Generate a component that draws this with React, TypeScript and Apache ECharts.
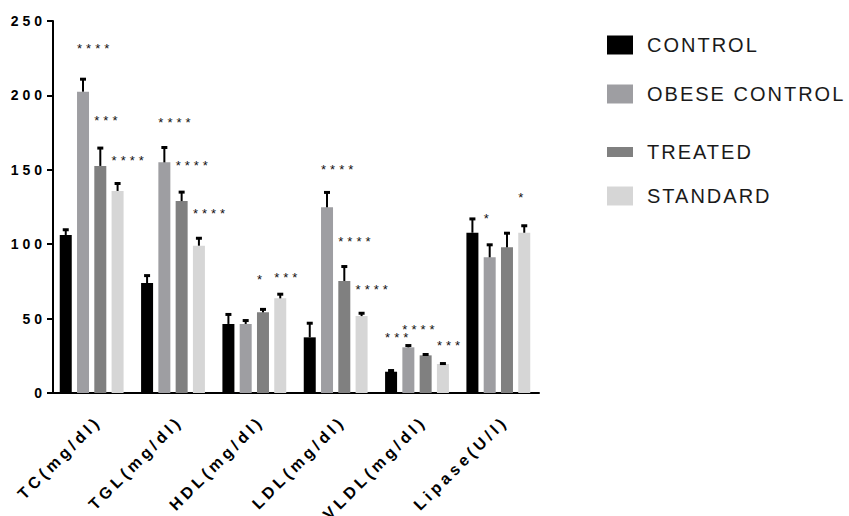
import React, { useEffect, useRef } from "react";
import * as echarts from "echarts";

const categories = ["TC(mg/dl)", "TGL(mg/dl)", "HDL(mg/dl)", "LDL(mg/dl)", "VLDL(mg/dl)", "Lipase(U/l)"];
const seriesNames = ["CONTROL", "OBESE CONTROL", "TREATED", "STANDARD"];

const control = [106.2, 73.9, 46.4, 37.4, 14.3, 107.7];
const obeseControl = [202.5, 155, 46.4, 124.8, 30.7, 91.2];
const treated = [152.6, 129, 54.2, 75.3, 25.3, 97.9];
const standard = [135.8, 99, 63.6, 51.7, 19.5, 107.7];

const controlSem = [4.5, 6, 7.4, 10.5, 1.8, 10.3];
const obeseSem = [9.4, 11, 3.3, 11, 2.2, 9.4];
const treatedSem = [13, 7, 3, 10.7, 1.6, 10.5];
const standardSem = [6, 6, 3.8, 2.9, 1.3, 5.7];

const controlSig = ["", "", "", "", "***", ""];
const obeseSig = ["****", "****", "", "****", "****", "*"];
const treatedSig = ["***", "****", "*", "****", "", ""];
const standardSig = ["****", "****", "***", "****", "***", "*"];

const controlSigY = [null, null, null, null, 39, null];
const obeseSigY = [233.2, 183.5, null, 152.5, 45, 119.6];
const treatedSigY = [185.3, 155, 78.2, 104, null, null];
const standardSigY = [158.4, 122.5, 79.8, 71.5, 34, 133.7];

const yTicks = [0, 50, 100, 150, 200, 250];

const colors = ["#000000", "#9e9ea2", "#808080", "#d6d6d6"];
const BAR_WIDTH = 12;
const BAR_GAP = 0.44;
const PITCH = BAR_WIDTH * (1 + BAR_GAP);
const FONT = "'Liberation Sans', Arial, sans-serif";

const means = [control, obeseControl, treated, standard];
const sems = [controlSem, obeseSem, treatedSem, standardSem];
const sigs = [controlSig, obeseSig, treatedSig, standardSig];
const sigYs = [controlSigY, obeseSigY, treatedSigY, standardSigY];

const errData: number[][] = [];
means.forEach((arr, s) => arr.forEach((v, c) => errData.push([c, s, v, sems[s][c]])));

const sigData: number[][] = [];
sigYs.forEach((arr, s) =>
  arr.forEach((y, c) => {
    if (y != null && sigs[s][c]) sigData.push([c, s, y]);
  })
);

const catLabelData = categories.map((_, c) => [c, 0]);

const legendCenters = [44, 93, 151, 195];

const css = `
#chartbox text[style*="14px"] { letter-spacing: 4px; }
#chartbox text[style*="16px"] { letter-spacing: 4px; }
#chartbox text[style*="20px"] { letter-spacing: 2px; }
#chartbox text[style*="13px"] { letter-spacing: 4px; }
`;

export default function App() {
  const ref = useRef<HTMLDivElement>(null);
  useEffect(() => {
    const chart = echarts.init(ref.current!, null, { renderer: "svg" });
    const option: any = {
      animation: false,
      backgroundColor: "#ffffff",
      grid: { left: 51, right: 310, top: 21, bottom: 123, containLabel: false },
      legend: seriesNames.map((n, i) => ({
        data: [n],
        left: 607,
        top: legendCenters[i] - 9,
        padding: 0,
        orient: "vertical",
        itemWidth: 26,
        itemHeight: i === 2 ? 10 : 19,
        icon: "rect",
        selectedMode: false,
        textStyle: { fontSize: 20, fontFamily: FONT, color: "#1a1a1a", padding: [0, 0, 0, 9] },
      })),
      xAxis: {
        type: "category",
        data: categories,
        axisLine: { lineStyle: { color: "#000", width: 2 } },
        axisTick: { alignWithLabel: true, length: 6, lineStyle: { color: "#000", width: 2 } },
        axisLabel: { show: false },
      },
      yAxis: {
        type: "value",
        min: yTicks[0],
        max: yTicks[yTicks.length - 1],
        interval: yTicks[1] - yTicks[0],
        offset: -2,
        axisLine: { show: true, lineStyle: { color: "#000", width: 2 } },
        axisTick: { show: true, length: 6, lineStyle: { color: "#000", width: 2 } },
        splitLine: { show: false },
        axisLabel: {
          color: "#000",
          fontWeight: "bold",
          fontSize: 14,
          fontFamily: FONT,
          margin: 7,
          padding: [7, 0, 0, 0],
        },
      },
      series: [
        ...seriesNames.map((n, i) => ({
          name: n,
          type: "bar",
          data: means[i],
          barWidth: BAR_WIDTH,
          barGap: `${BAR_GAP * 100}%`,
          itemStyle: { color: colors[i] },
        })),
        {
          type: "custom",
          z: 3,
          data: errData,
          encode: { x: 0, y: 2 },
          renderItem: (params: any, api: any) => {
            const c = api.value(0);
            const s = api.value(1);
            const m = api.value(2);
            const e = api.value(3);
            const base = api.coord([c, m]);
            const top = api.coord([c, m + e]);
            const x = base[0] + (s - 1.5) * PITCH;
            return {
              type: "group",
              children: [
                { type: "line", shape: { x1: x, y1: base[1], x2: x, y2: top[1] + 1 }, style: { stroke: "#000", lineWidth: 2 } },
                { type: "rect", shape: { x: x - 3, y: top[1], width: 6, height: 3 }, style: { fill: "#000" } },
              ],
            };
          },
        },
        {
          type: "custom",
          z: 4,
          data: sigData,
          encode: { x: 0, y: 2 },
          renderItem: (params: any, api: any) => {
            const c = api.value(0);
            const s = api.value(1);
            const y = api.value(2);
            const p = api.coord([c, y]);
            const left = p[0] + (s - 1.5) * PITCH - BAR_WIDTH / 2;
            return {
              type: "text",
              x: left,
              y: p[1] + 3,
              style: {
                text: sigs[s][c],
                fill: "#111",
                fontSize: 13,
                fontFamily: FONT,
                align: "left",
                verticalAlign: "middle",
                textAlign: "left",
                textVerticalAlign: "middle",
              },
            };
          },
        },
        {
          type: "custom",
          z: 4,
          data: catLabelData,
          encode: { x: 0, y: 1 },
          clip: false,
          renderItem: (params: any, api: any) => {
            const c = api.value(0);
            const p = api.coord([c, 0]);
            return {
              type: "text",
              x: p[0] + 7,
              y: p[1] + 25.5,
              rotation: Math.PI / 4,
              style: {
                text: categories[c],
                fill: "#000",
                fontSize: 16,
                fontWeight: "bold",
                fontFamily: FONT,
                align: "right",
                verticalAlign: "middle",
                textAlign: "right",
                textVerticalAlign: "middle",
              },
            };
          },
        },
      ],
    };
    chart.setOption(option);
    return () => chart.dispose();
  }, []);
  return (
    <>
      <style>{css}</style>
      <div
        id="chartbox"
        ref={ref}
        style={{ position: "fixed", left: 0, top: 0, width: 849, height: 516, background: "#fff" }}
      />
    </>
  );
}
